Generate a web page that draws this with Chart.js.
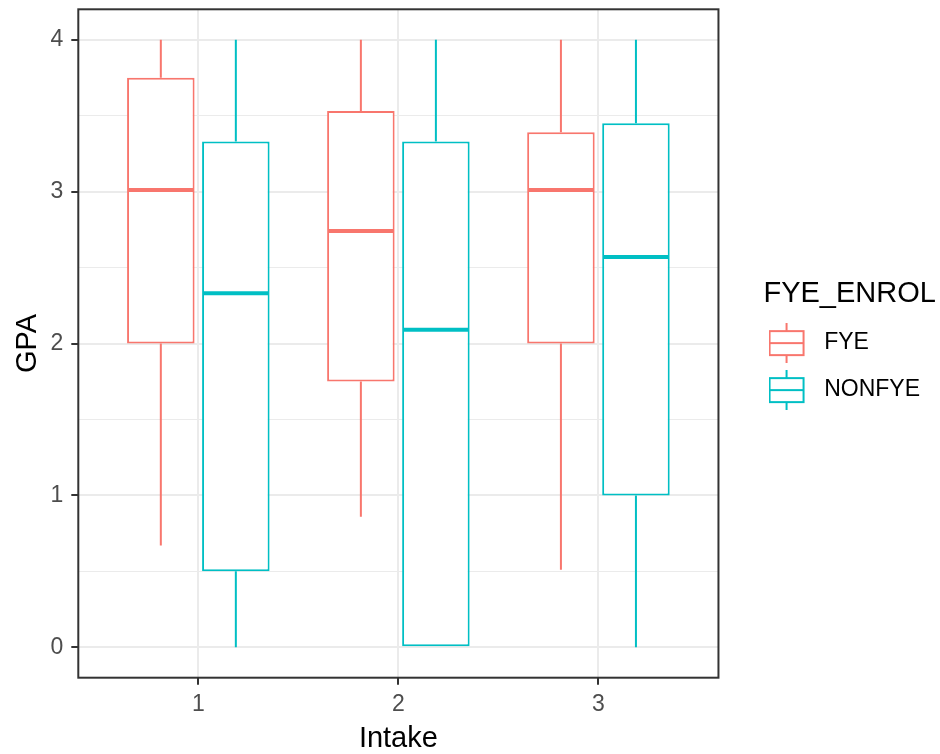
<!DOCTYPE html>
<html>
<head>
<meta charset="utf-8">
<script src="https://cdn.jsdelivr.net/npm/chart.js@4.4.1/dist/chart.umd.min.js"></script>
<style>
  html, body { margin: 0; padding: 0; background: #fff; }
</style>
</head>
<body>
<canvas id="boxChart" width="940" height="754"></canvas>
<script>
// ---------------- Daten ----------------
const intakes = [1, 2, 3];
const groups = ['FYE', 'NONFYE'];
const yTicks = [0, 1, 2, 3, 4];

// Boxplot-Kennzahlen je Intake
const fyeMin = [0.67, 0.86, 0.51];
const fyeQ1 = [2.00, 1.75, 2.00];
const fyeMedian = [3.01, 2.74, 3.01];
const fyeQ3 = [3.75, 3.53, 3.39];
const fyeMax = [4, 4, 4];

const nonfyeMin = [0, 0, 0];
const nonfyeQ1 = [0.50, 0.00, 1.00];
const nonfyeMedian = [2.33, 2.09, 2.57];
const nonfyeQ3 = [3.33, 3.33, 3.45];
const nonfyeMax = [4, 4, 4];

const stats = [
  { min: fyeMin, q1: fyeQ1, med: fyeMedian, q3: fyeQ3, max: fyeMax },
  { min: nonfyeMin, q1: nonfyeQ1, med: nonfyeMedian, q3: nonfyeQ3, max: nonfyeMax }
];

const colors = ['#F8766D', '#00BFC4'];
const family = "'Liberation Sans', Arial, sans-serif";

// Haupt- und Nebengitter (0, 0.5, 1, ...)
const yGrid = yTicks.flatMap((v, i) => i ? [(yTicks[i - 1] + v) / 2, v] : [v]);
const isMajor = v => yTicks.includes(v);

// ---------------- Legenden-Symbol (kleiner Boxplot) ----------------
function legendGlyph(color) {
  const c = document.createElement('canvas');
  c.width = 63; c.height = 40;
  const g = c.getContext('2d');
  g.strokeStyle = color;
  g.lineWidth = 2;
  g.beginPath();
  g.moveTo(18, 0); g.lineTo(18, 8);
  g.moveTo(18, 32); g.lineTo(18, 40);
  g.moveTo(1, 20); g.lineTo(35, 20);
  g.stroke();
  g.strokeRect(1, 8, 34, 24);
  return c;
}

// ---------------- Whisker, Median, Rahmen ----------------
const boxExtras = {
  id: 'boxExtras',
  beforeDraw(chart) {
    // Legende nicht am rechten Rand abschneiden (Titel ist breiter als die Einträge)
    if (chart.legend) chart.legend.right = chart.width;
  },
  afterDatasetsDraw(chart) {
    const ctx = chart.ctx;
    const y = chart.scales.y;
    chart.data.datasets.forEach((ds, k) => {
      const s = stats[k];
      chart.getDatasetMeta(k).data.forEach((bar, i) => {
        const x = bar.x;
        const half = bar.width / 2;
        ctx.save();
        ctx.strokeStyle = colors[k];
        ctx.lineWidth = 2;
        ctx.beginPath();
        ctx.moveTo(x, y.getPixelForValue(s.q3[i]));
        ctx.lineTo(x, y.getPixelForValue(s.max[i]));
        ctx.moveTo(x, y.getPixelForValue(s.q1[i]));
        ctx.lineTo(x, y.getPixelForValue(s.min[i]));
        ctx.stroke();
        const ym = y.getPixelForValue(s.med[i]);
        ctx.lineWidth = 4;
        ctx.beginPath();
        ctx.moveTo(x - half + 1, ym);
        ctx.lineTo(x + half - 1, ym);
        ctx.stroke();
        ctx.restore();
      });
    });
  },
  afterDraw(chart) {
    const { ctx, chartArea: a } = chart;
    ctx.save();
    ctx.strokeStyle = '#333333';
    ctx.lineWidth = 2;
    ctx.strokeRect(a.left, a.top, a.right - a.left, a.bottom - a.top);
    ctx.restore();
  }
};

// ---------------- Boxplot ----------------
const boxChart = new Chart(document.getElementById('boxChart'), {
  type: 'bar',
  data: {
    datasets: groups.map((g, k) => ({
      label: g,
      data: intakes.map((x, i) => ({ x, y: [stats[k].q1[i], stats[k].q3[i]] })),
      backgroundColor: '#FFFFFF',
      borderColor: colors[k],
      borderWidth: 2,
      borderSkipped: false,
      pointStyle: legendGlyph(colors[k]),
      categoryPercentage: 0.75,
      barPercentage: 0.9
    }))
  },
  options: {
    responsive: false,
    animation: false,
    layout: { padding: { top: 9.3, right: 10, bottom: 0, left: 0 } },
    plugins: {
      tooltip: { enabled: false },
      legend: {
        position: 'right',
        align: 'start',
        maxWidth: 260,
        title: {
          display: true,
          text: 'FYE_ENROL',
          position: 'start',
          color: '#000',
          font: { size: 29, family },
          padding: { top: 270, bottom: -6.5 }
        },
        labels: {
          usePointStyle: true,
          pointStyleWidth: 25.2,
          padding: 24,
          color: '#000',
          font: { size: 23, family }
        }
      }
    },
    scales: {
      x: {
        type: 'linear',
        min: 0.4,
        max: 3.6,
        offset: false,
        afterBuildTicks: s => { s.ticks = intakes.map(v => ({ value: v })); },
        grid: { offset: false, color: '#EBEBEB', lineWidth: 2, tickColor: '#333333', tickLength: 7, tickWidth: 2 },
        border: { display: false },
        ticks: { color: '#4D4D4D', font: { size: 23, family }, padding: 6.5, maxRotation: 0, autoSkip: false, callback: v => String(v) },
        title: { display: true, text: 'Intake', color: '#000', font: { size: 29, family, lineHeight: 1 }, padding: { top: 0, bottom: 0.5 } },
        afterFit: s => { s.height = 76.3; }
      },
      y: {
        min: -0.2,
        max: 4.2,
        afterBuildTicks: s => { s.ticks = yGrid.map(v => ({ value: v })); },
        grid: {
          color: '#EBEBEB',
          lineWidth: c => (c.tick && isMajor(c.tick.value)) ? 2 : 1,
          tickColor: c => (c.tick && isMajor(c.tick.value)) ? '#333333' : 'rgba(0,0,0,0)',
          tickLength: 7,
          tickWidth: 2
        },
        border: { display: false },
        ticks: {
          color: '#4D4D4D',
          font: { size: 23, family },
          padding: 8,
          autoSkip: false,
          callback: v => isMajor(v) ? String(v) : ''
        },
        title: { display: true, text: 'GPA', color: '#000', font: { size: 29, family, lineHeight: 1 }, padding: { top: 13.5, bottom: 0 } },
        // feste Breite, kein Zusatzabstand oben/unten durch die Beschriftungen
        afterFit: s => { s.width = 78.3; s.paddingTop = 0; s.paddingBottom = 0; }
      },
      // leere Achse als Abstand zwischen Panel und Legende
      y2: {
        type: 'linear',
        position: 'right',
        display: true,
        grid: { display: false },
        ticks: { display: false },
        border: { display: false },
        afterFit: s => { s.width = 45; }
      }
    }
  },
  plugins: [boxExtras]
});
</script>
</body>
</html>
